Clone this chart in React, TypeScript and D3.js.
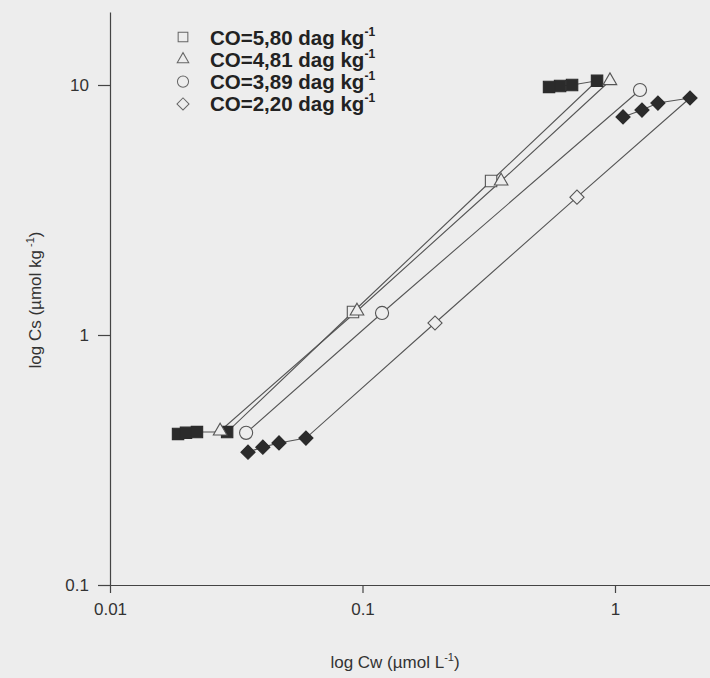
import React, { useEffect, useRef } from 'react';
import * as d3 from 'd3';

// CO = 5,80 dag kg-1 (squares), in drawing order
const sqX = [0.0186, 0.02, 0.0221, 0.0291, 0.0917, 0.323, 0.849, 0.676, 0.606, 0.548];
const sqY = [0.402, 0.406, 0.409, 0.409, 1.236, 4.13, 10.4, 10.0, 9.91, 9.82];
const sqFilled = [1, 1, 1, 1, 0, 0, 1, 1, 1, 1];

// CO = 4,81 dag kg-1 (triangles)
const triX = [0.0273, 0.0951, 0.354, 0.955];
const triY = [0.413, 1.247, 4.13, 10.4];
const triFilled = [0, 0, 0, 0];

// CO = 3,89 dag kg-1 (circles)
const cirX = [0.0346, 0.1195, 1.256];
const cirY = [0.406, 1.225, 9.55];
const cirFilled = [0, 0, 0];

// CO = 2,20 dag kg-1 (diamonds)
const diaX = [0.0352, 0.0403, 0.0467, 0.0597, 0.1937, 0.707, 1.982, 1.479, 1.279, 1.076];
const diaY = [0.34, 0.356, 0.37, 0.387, 1.117, 3.56, 8.87, 8.47, 7.94, 7.45];
const diaFilled = [1, 1, 1, 1, 0, 0, 1, 1, 1, 1];

const legendLabels = ['CO=5,80 dag kg', 'CO=4,81 dag kg', 'CO=3,89 dag kg', 'CO=2,20 dag kg'];
const xTicks = [0.01, 0.1, 1];
const yTicks = [0.1, 1, 10];

const W = 710;
const H = 678;

const App = () => {
    const svgRef = useRef<SVGSVGElement>(null);

    useEffect(() => {
        const svg = d3.select(svgRef.current);
        svg.selectAll('*').remove();

        const left = 110;
        const bottom = 585;
        const decX = 252.5;
        const decY = 250;

        const x = d3
            .scaleLog()
            .domain([0.01, Math.pow(10, (W - left) / decX - 2)])
            .range([left, W]);
        const y = d3
            .scaleLog()
            .domain([0.1, Math.pow(10, (bottom - 12) / decY - 1)])
            .range([bottom, 12]);

        svg.append('rect').attr('width', W).attr('height', H).attr('fill', '#ededed');

        const font = 'Arial, "Liberation Sans", sans-serif';

        const xAxis = svg
            .append('g')
            .attr('transform', `translate(0,${bottom})`)
            .call(d3.axisBottom(x).tickValues(xTicks).tickFormat(d => String(d)).tickSize(8).tickSizeOuter(0).tickPadding(10));
        const yAxis = svg
            .append('g')
            .attr('transform', `translate(${left},0)`)
            .call(d3.axisLeft(y).tickValues(yTicks).tickFormat(d => String(d)).tickSize(12).tickSizeOuter(0).tickPadding(9));

        [xAxis, yAxis].forEach(g => {
            g.selectAll('path, line').attr('stroke', '#444').attr('stroke-width', 1.2);
            g.selectAll('text').attr('font-family', font).attr('font-size', 17).attr('fill', '#333');
        });
        yAxis.selectAll('text').attr('dy', '0.35em');

        const series = [
            { xs: sqX, ys: sqY, filled: sqFilled, type: 'square' },
            { xs: triX, ys: triY, filled: triFilled, type: 'triangle' },
            { xs: cirX, ys: cirY, filled: cirFilled, type: 'circle' },
            { xs: diaX, ys: diaY, filled: diaFilled, type: 'diamond' },
        ];

        const symbolFor = (type: string) => {
            if (type === 'triangle') return d3.symbol().type(d3.symbolTriangle).size(80)();
            if (type === 'circle') return d3.symbol().type(d3.symbolCircle).size(135)();
            if (type === 'diamond') return d3.symbol().type(d3.symbolSquare).size(100)();
            return d3.symbol().type(d3.symbolSquare).size(130)();
        };

        series.forEach(s => {
            const pts = s.xs.map((v, i) => [x(v), y(s.ys[i])] as [number, number]);
            svg
                .append('path')
                .attr('d', d3.line()(pts))
                .attr('fill', 'none')
                .attr('stroke', '#555')
                .attr('stroke-width', 1.1);
        });

        series.forEach(s => {
            svg
                .append('g')
                .selectAll('path')
                .data(s.xs.map((v, i) => ({ x: v, y: s.ys[i], f: s.filled[i] })))
                .join('path')
                .attr('d', symbolFor(s.type))
                .attr('transform', d => `translate(${x(d.x)},${y(d.y)})${s.type === 'diamond' ? ' rotate(45)' : ''}`)
                .attr('fill', d => (d.f ? '#2b2b2b' : '#ededed'))
                .attr('stroke', d => (d.f ? '#2b2b2b' : '#555'))
                .attr('stroke-width', 1.1);
        });

        // legend
        const legend = svg.append('g');
        const types = ['square', 'triangle', 'circle', 'diamond'];
        legendLabels.forEach((lab, i) => {
            const ly = 37 + i * 22.3;
            legend
                .append('path')
                .attr('d', symbolFor(types[i]))
                .attr('transform', `translate(183,${ly})${types[i] === 'diamond' ? ' rotate(45)' : ''} scale(0.85)`)
                .attr('fill', 'none')
                .attr('stroke', '#666')
                .attr('stroke-width', 1.2);
            const t = legend
                .append('text')
                .attr('x', 210)
                .attr('y', ly + 7.5)
                .attr('font-family', font)
                .attr('font-size', 20.5)
                .attr('font-weight', 'bold')
                .attr('fill', '#222');
            t.append('tspan').text(lab);
            t.append('tspan').attr('dy', -9).attr('font-size', 12).text('-1');
        });

        // axis titles
        const xt = svg
            .append('text')
            .attr('x', 395)
            .attr('y', 668)
            .attr('text-anchor', 'middle')
            .attr('font-family', font)
            .attr('font-size', 17)
            .attr('fill', '#333');
        xt.append('tspan').text('log Cw (\u00b5mol L');
        xt.append('tspan').attr('dy', -7).attr('font-size', 11).text('-1');
        xt.append('tspan').attr('dy', 7).text(')');

        const yt = svg
            .append('text')
            .attr('transform', 'translate(41,300) rotate(-90)')
            .attr('text-anchor', 'middle')
            .attr('font-family', font)
            .attr('font-size', 17)
            .attr('fill', '#333');
        yt.append('tspan').text('log Cs (\u00b5mol kg');
        yt.append('tspan').attr('dy', -7).attr('font-size', 11).text(' -1');
        yt.append('tspan').attr('dy', 7).text(')');
    }, []);

    return (
        <svg
            ref={svgRef}
            width={W}
            height={H}
            style={{ position: 'absolute', left: 0, top: 0 }}
        ></svg>
    );
};

export default App;
